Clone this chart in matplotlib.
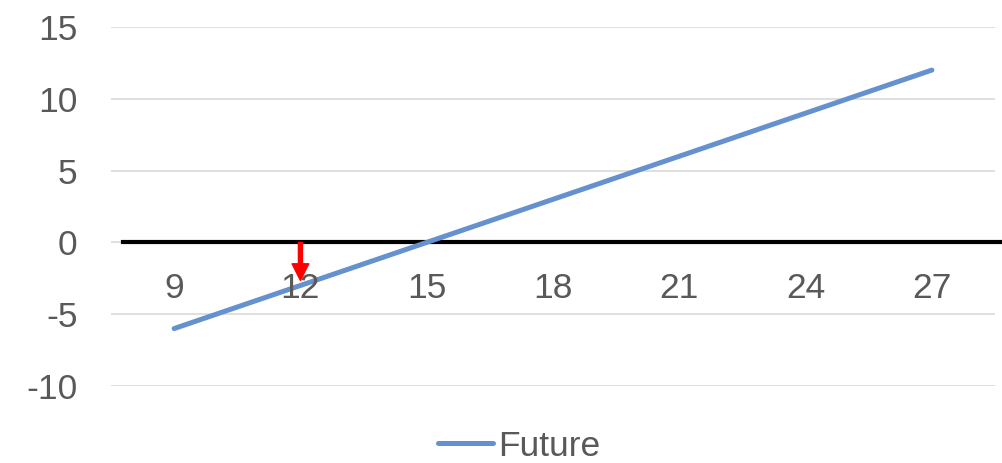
import numpy as np
import matplotlib.pyplot as plt

# dados do gráfico
precos = [9, 12, 15, 18, 21, 24, 27]
future = [-6, -3, 0, 3, 6, 9, 12]
y_ticks = [-10, -5, 0, 5, 10, 15]
seta_x = 12
seta_fim = -2.65

plt.rcParams['font.family'] = ['Liberation Sans', 'DejaVu Sans']
plt.rcParams['axes.unicode_minus'] = False
cor_texto = '#595959'
tam = 25.5

fig = plt.figure(figsize=(10.02, 4.63), dpi=100)
ax = fig.add_axes([111/1002, 77/463, 884/1002, 359/463])

ax.plot(precos, future, color='#6591CF', linewidth=3.6, solid_capstyle='round',
        label='Future', zorder=3)

ax.set_xlim(7.5, 28.5)
ax.set_ylim(-10, 15)
ax.set_yticks(y_ticks)
ax.set_xticks(precos)
ax.yaxis.grid(True, color='#D9D9D9', linewidth=1.2)
ax.set_axisbelow(True)

for lado in ['top', 'right', 'left', 'bottom']:
    ax.spines[lado].set_visible(False)

ax.tick_params(axis='y', length=0, labelsize=tam, colors=cor_texto, pad=24)
ax.tick_params(axis='x', length=0, labelbottom=False)
for x in precos:
    ax.text(x, -3.2, str(x), ha='center', va='center', fontsize=tam, color=cor_texto)

# linha do zero (preta)
ax.axhline(0, xmin=12/884, xmax=889/884, color='black', linewidth=3, clip_on=False, zorder=2)

# seta vermelha
ax.annotate('', xy=(seta_x, seta_fim), xytext=(seta_x, 0),
            arrowprops=dict(facecolor='#FF0000', edgecolor='#FF0000', width=2.9,
                            headwidth=12, headlength=12, shrink=0), zorder=4)

fig.legend(loc='center', bbox_to_anchor=(519/1002, 17/463), frameon=False,
           fontsize=tam, handlelength=1.55, handletextpad=0.15, labelcolor=cor_texto)

fig.savefig('out.png', dpi=100)
